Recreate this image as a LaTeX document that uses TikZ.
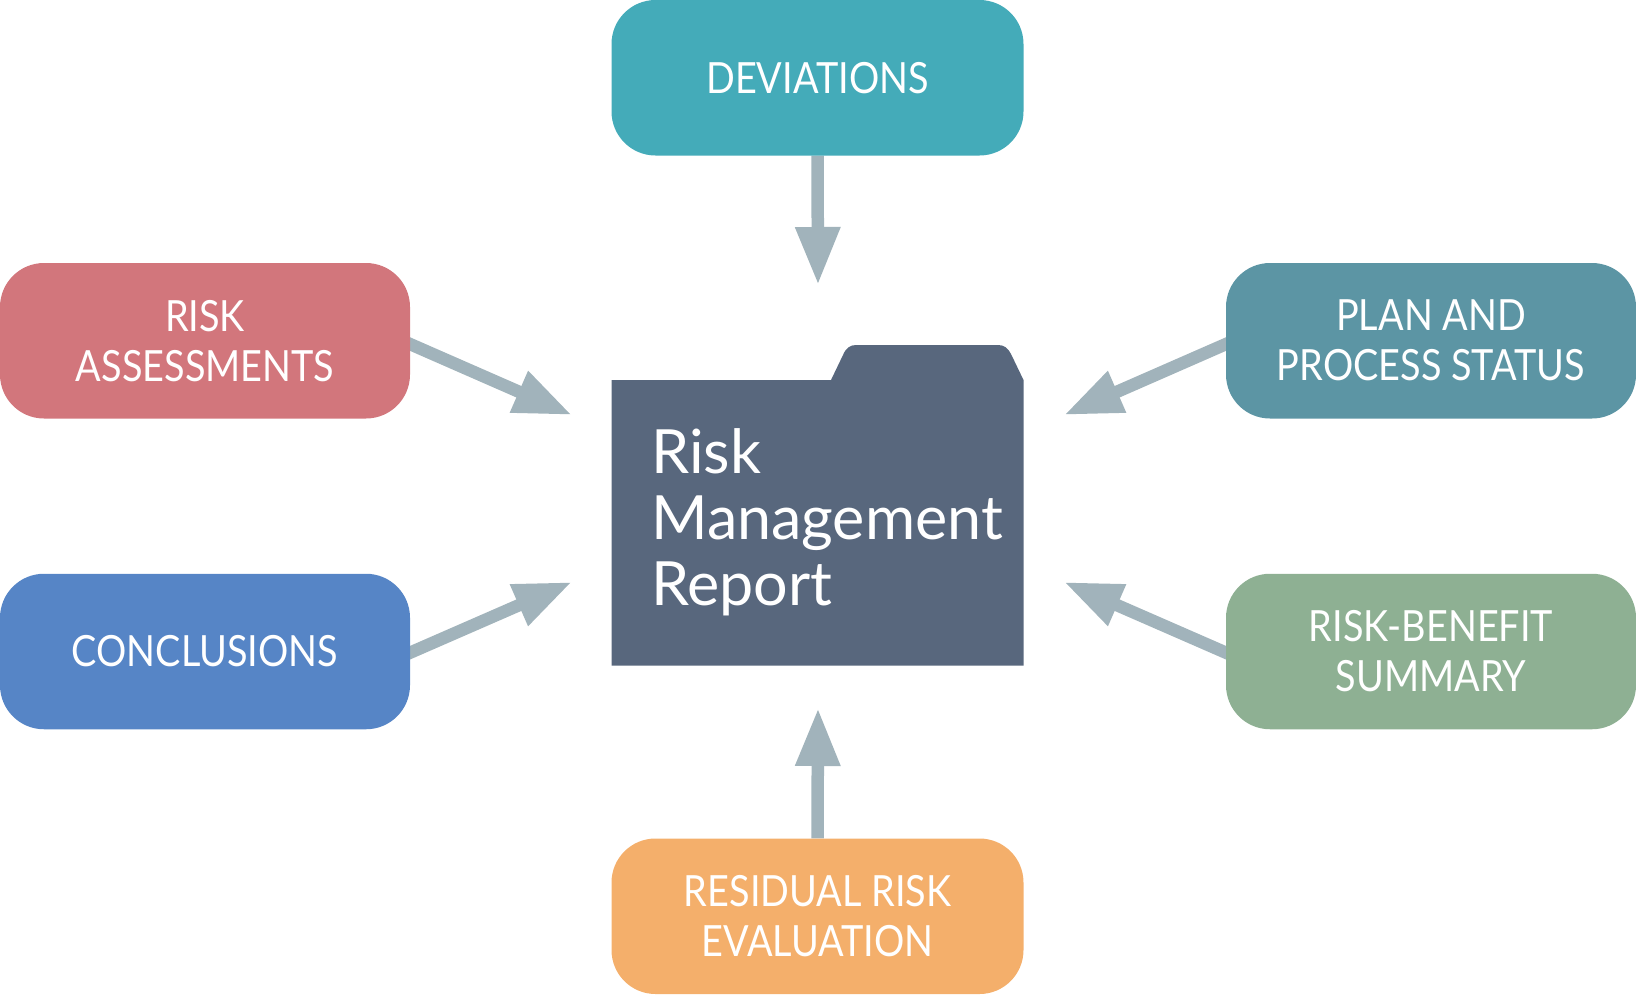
\documentclass[tikz,border=0pt]{standalone}
\usepackage{fontspec}
\setmainfont{Lato}
\newfontfamily\boxfont[FakeStretch=0.88]{Lato}
\usetikzlibrary{arrows.meta,backgrounds}
\definecolor{cdev}{HTML}{44ABB9}
\definecolor{crisk}{HTML}{D2767C}
\definecolor{cconc}{HTML}{5685C6}
\definecolor{cplan}{HTML}{5C95A4}
\definecolor{cben}{HTML}{8EB093}
\definecolor{cres}{HTML}{F4AF6B}
\definecolor{cfold}{HTML}{58677D}
\definecolor{carr}{HTML}{A1B3BB}
\tikzset{
  x=1pt,y=-1pt,
  topic/.style={minimum width=410pt,minimum height=155.5pt,rounded corners=44pt,inner sep=0pt,
    text=white,align=center,font=\boxfont\fontsize{43}{50}\selectfont},
  feed/.style={draw=carr,line width=12.5pt,-{Triangle[width=42pt,length=58pt]}},
  foldertext/.style={text=white,align=left,anchor=north west,inner sep=0pt,font=\fontsize{61}{66}\selectfont},
}
\begin{document}
\begin{tikzpicture}
\useasboundingbox (0,0) rectangle (1636,994);
\node[topic,fill=cdev,minimum width=412pt] (dev) at (817.5,77.75) {DEVIATIONS};
\node[topic,fill=crisk] (risk) at (205,340.75) {RISK\\ASSESSMENTS};
\node[topic,fill=cconc] (conc) at (205,651.5) {CONCLUSIONS};
\node[topic,fill=cplan] (plan) at (1431,340.75) {PLAN AND\\PROCESS STATUS};
\node[topic,fill=cben] (ben) at (1431,651.5) {RISK-BENEFIT\\SUMMARY};
\node[topic,fill=cres,minimum width=412pt] (res) at (817.5,916.25) {RESIDUAL RISK\\EVALUATION};
\fill[cfold] (611.5,380) -- (831,380) -- (843,355)
  .. controls (846,348) and (850,345) .. (856,345) -- (998,345)
  .. controls (1004,345) and (1008,348) .. (1011,354) -- (1023.5,380)
  -- (1023.5,665.5) -- (611.5,665.5) -- cycle;
\node[foldertext] (report) at (651,428) {Risk\\Management\\Report};
\coordinate (tipdev) at (818,285);
\coordinate (tipres) at (818,708);
\coordinate (tiprisk) at (572,415);
\coordinate (tipconc) at (572,582);
\coordinate (tipplan) at (1064,415);
\coordinate (tipben) at (1064,582);
\begin{scope}[on background layer]
\draw[feed] (dev.south) -- (tipdev);
\draw[feed] (res.north) -- (tipres);
\draw[feed] ([shift={(-10,-1)}]risk.east) -- (tiprisk);
\draw[feed] ([shift={(-10,5.5)}]conc.east) -- (tipconc);
\draw[feed] ([shift={(10,-1)}]plan.west) -- (tipplan);
\draw[feed] ([shift={(10,5.5)}]ben.west) -- (tipben);
\end{scope}
\end{tikzpicture}
\end{document}
